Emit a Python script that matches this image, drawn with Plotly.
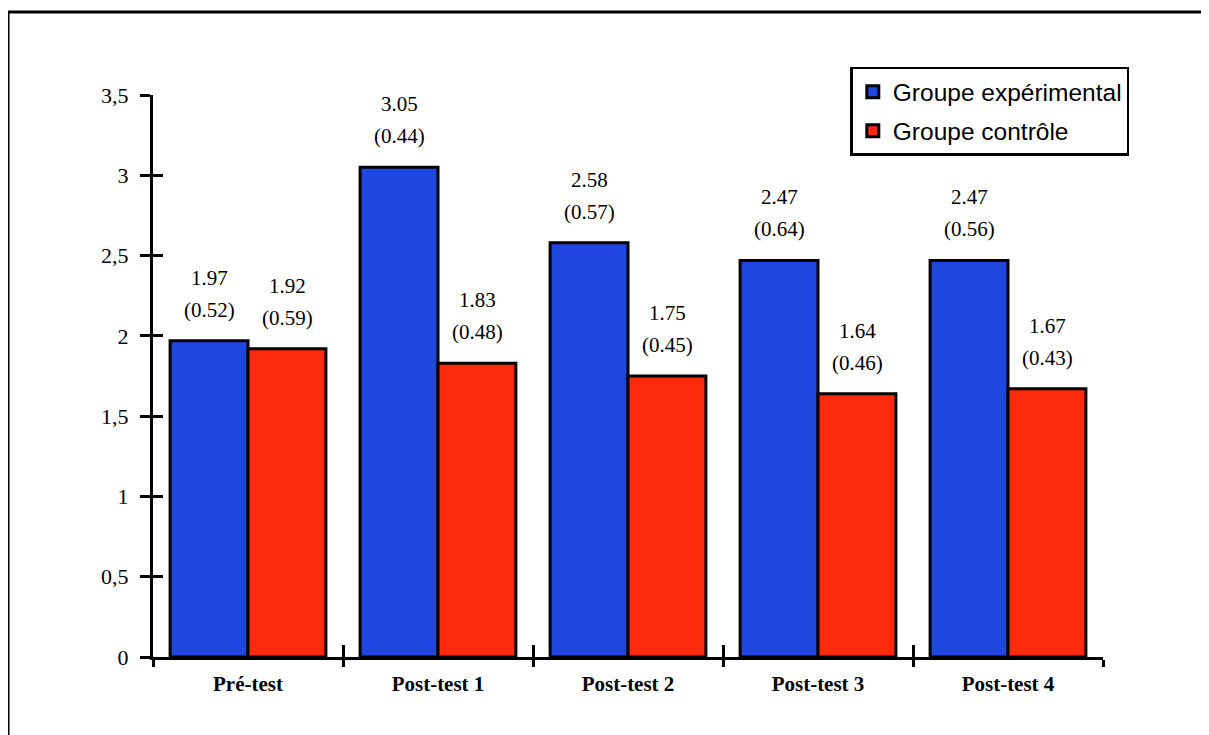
import plotly.graph_objects as go

categories = ["Pré-test", "Post-test 1", "Post-test 2", "Post-test 3", "Post-test 4"]
exp_means = [1.97, 3.05, 2.58, 2.47, 2.47]
exp_sd = [0.52, 0.44, 0.57, 0.64, 0.56]
ctl_means = [1.92, 1.83, 1.75, 1.64, 1.67]
ctl_sd = [0.59, 0.48, 0.45, 0.46, 0.43]
y_ticks = [0, 0.5, 1, 1.5, 2, 2.5, 3, 3.5]

BLUE = "#1f47e0"
RED = "#fb2a0c"
SERIF = "Liberation Serif, Times New Roman, serif"
SANS = "Liberation Sans, Arial, sans-serif"

fig = go.Figure()
fig.add_trace(go.Bar(x=categories, y=exp_means, name="Groupe expérimental", legendgroup="e",
                     marker=dict(color=BLUE, line=dict(color="black", width=3))))
fig.add_trace(go.Bar(x=categories, y=ctl_means, name="Groupe contrôle", legendgroup="c",
                     marker=dict(color=RED, line=dict(color="black", width=3))))
# helper trace for inner halves of the crossing ticks
fig.add_trace(go.Scatter(x=categories, y=[None] * len(categories), xaxis="x2", yaxis="y2",
                         showlegend=False, hoverinfo="skip", mode="markers"))

annotations = []
for means, sds, shift in ((exp_means, exp_sd, -39), (ctl_means, ctl_sd, 39)):
    for c, m, s in zip(categories, means, sds):
        annotations.append(dict(x=c, y=m, text=f"{m:.2f}", showarrow=False,
                                xshift=shift, yshift=63, yanchor="middle",
                                font=dict(family=SERIF, size=21, color="black")))
        annotations.append(dict(x=c, y=m, text=f"({s:.2f})", showarrow=False,
                                xshift=shift, yshift=31, yanchor="middle",
                                font=dict(family=SERIF, size=21, color="black")))

fig.update_layout(
    width=1209, height=735,
    margin=dict(l=145, r=114, t=87, b=86),
    paper_bgcolor="white", plot_bgcolor="white",
    separators=", ",
    barmode="group", bargap=0.18, bargroupgap=0,
    annotations=annotations,
    showlegend=True,
    legend=dict(x=0.734, y=1.05, xanchor="left", yanchor="top",
                bgcolor="white", bordercolor="black", borderwidth=2.5,
                font=dict(family=SANS, size=24.5, color="black"),
                tracegroupgap=4, itemclick=False),
    xaxis=dict(range=[-0.5, 4.5], showgrid=False, zeroline=False,
               showline=True, linecolor="black", linewidth=2.5,
               ticks="outside", ticklen=7, tickwidth=2.5, tickcolor="black",
               tickson="boundaries", ticklabelstandoff=6,
               tickfont=dict(family=SERIF, size=21, color="black", weight="bold")),
    yaxis=dict(range=[0, 3.5], tickvals=y_ticks, showgrid=False, zeroline=False,
               showline=True, linecolor="black", linewidth=3,
               ticks="outside", ticklen=10, tickwidth=2.5, tickcolor="black",
               ticklabelstandoff=7,
               tickfont=dict(family=SERIF, size=22, color="black")),
    xaxis2=dict(overlaying="x", range=[-0.5, 4.5], anchor="y2", showgrid=False,
                zeroline=False, showline=False, ticks="inside", ticklen=12,
                tickwidth=2.5, tickcolor="black", tickson="boundaries",
                showticklabels=False, side="bottom"),
    yaxis2=dict(overlaying="y", range=[0, 3.5], anchor="x2", tickvals=y_ticks,
                showgrid=False, zeroline=False, showline=False, ticks="inside",
                ticklen=10, tickwidth=2.5, tickcolor="black",
                showticklabels=False, side="left"),
    shapes=[
        dict(type="line", xref="paper", yref="paper", x0=-0.1526, x1=1.2,
             y0=1.1477, y1=1.1477, line=dict(color="black", width=3)),
        dict(type="line", xref="paper", yref="paper", x0=-0.1526, x1=-0.1526,
             y0=1.1477, y1=-0.2, line=dict(color="black", width=3)),
    ],
)

fig.write_html("out.html")
